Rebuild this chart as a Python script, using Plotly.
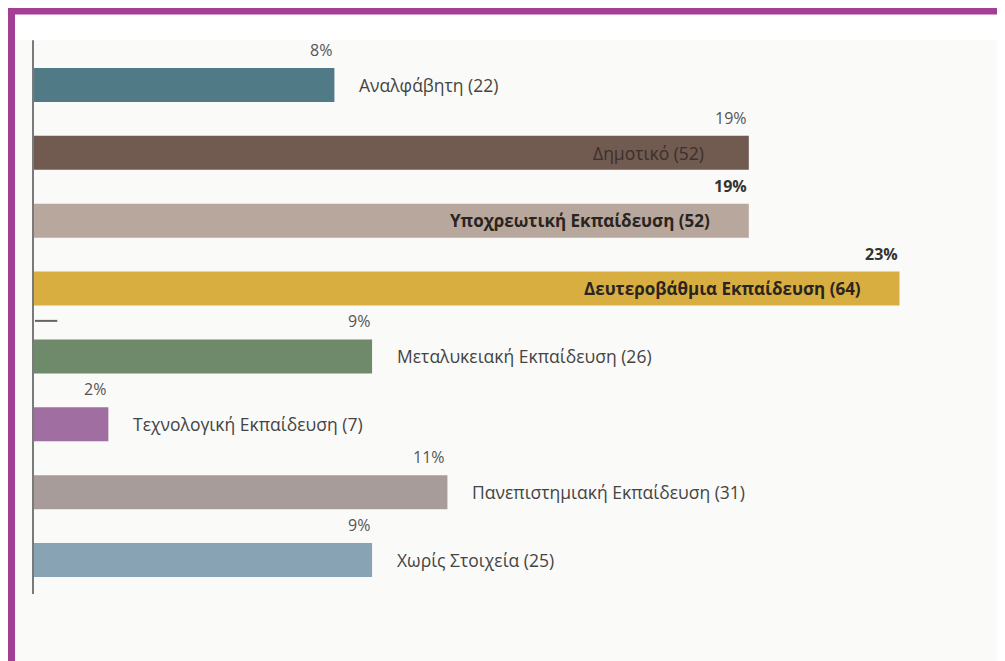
import plotly.graph_objects as go

categories = [
    "Αναλφάβητη (22)",
    "Δημοτικό (52)",
    "Υποχρεωτική Εκπαίδευση (52)",
    "Δευτεροβάθμια Εκπαίδευση (64)",
    "Μεταλυκειακή Εκπαίδευση (26)",
    "Τεχνολογική Εκπαίδευση (7)",
    "Πανεπιστημιακή Εκπαίδευση (31)",
    "Χωρίς Στοιχεία (25)",
]
percentages = [8, 19, 19, 23, 9, 2, 11, 9]
pct_labels = ["8%", "19%", "19%", "23%", "9%", "2%", "11%", "9%"]
colors = ["#4f7a86", "#715a50", "#b8a79c", "#d8ae40", "#6f8a6b", "#a06ea0", "#a79c99", "#88a3b3"]
label_inside = [False, True, True, True, False, False, False, False]
label_bold = [False, False, True, True, False, False, False, False]
pct_bold = [False, False, True, True, False, False, False, False]

FONT = "Open Sans"

fig = go.Figure()
fig.add_trace(go.Bar(
    x=percentages, y=categories, orientation="h",
    marker=dict(color=colors, line=dict(width=0)),
    width=0.5, hoverinfo="skip",
))

annotations = []
for cat, val, lab, ins, bold, pb in zip(categories, percentages, pct_labels, label_inside, label_bold, pct_bold):
    txt = f"<b>{cat}</b>" if bold else cat
    if ins:
        annotations.append(dict(x=val, y=cat, xref="x", yref="y", text=txt, showarrow=False,
                                xanchor="right", xshift=-43 if not bold else -37,
                                font=dict(family=FONT, size=17 if bold else 17.5,
                                          color="#3b302c" if not bold else "#2a2420")))
    else:
        annotations.append(dict(x=val, y=cat, xref="x", yref="y", text=txt, showarrow=False,
                                xanchor="left", xshift=23,
                                font=dict(family=FONT, size=17.5, color="#444444")))
    annotations.append(dict(x=val, y=cat, xref="x", yref="y", text=f"<b>{lab}</b>" if pb else lab,
                            showarrow=False, xanchor="right", yshift=35, xshift=0,
                            font=dict(family=FONT, size=16, color="#555555" if not pb else "#333333")))

shapes = [
    # white strip at top
    dict(type="rect", xref="paper", yref="paper", x0=-0.03, x1=1.01, y0=1.0203, y1=1.08,
         fillcolor="white", line=dict(width=0), layer="below"),
    # axis line
    dict(type="line", xref="paper", yref="paper", x0=0, x1=0, y0=0, y1=1.02,
         line=dict(color="#7a7a7a", width=2)),
    # small tick mark
    dict(type="line", xref="paper", yref="paper", x0=0.002, x1=0.025, y0=0.503, y1=0.503,
         line=dict(color="#666666", width=2)),
    # purple frame
    dict(type="line", xref="paper", yref="paper", x0=-0.0257, x1=1.01, y0=1.0737, y1=1.0737,
         line=dict(color="#a23e96", width=7)),
    dict(type="line", xref="paper", yref="paper", x0=-0.0221, x1=-0.0221, y0=1.08, y1=-0.13,
         line=dict(color="#a23e96", width=7)),
]

fig.update_layout(
    width=997, height=653,
    margin=dict(l=25, r=0, t=43, b=67),
    paper_bgcolor="#fafaf8", plot_bgcolor="#fafaf8",
    showlegend=False,
    bargap=0.5,
    xaxis=dict(range=[0, 25.8], visible=False, fixedrange=True),
    yaxis=dict(range=[len(categories) - 0.5, -0.5], visible=False, fixedrange=True),
    annotations=annotations,
    shapes=shapes,
    font=dict(family=FONT),
)

fig.write_html("out.html", config={"displayModeBar": False})
